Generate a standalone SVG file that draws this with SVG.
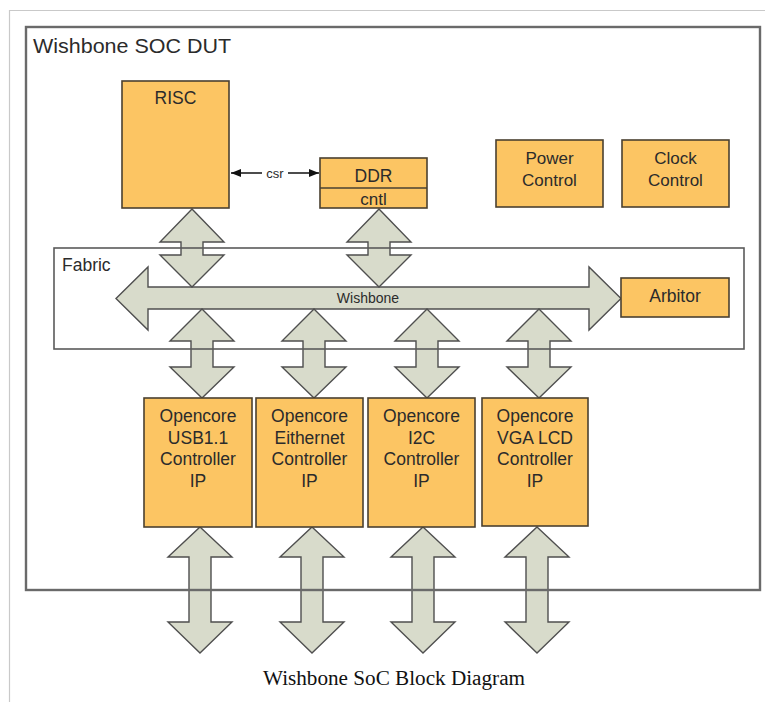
<svg xmlns="http://www.w3.org/2000/svg" width="765" height="702" viewBox="0 0 765 702">
<style>
.box{fill:#FCC563;stroke:#4a4030;stroke-width:1.6}
.arr{fill:#D8DBCB;stroke:#4f4f4f;stroke-width:1.4;stroke-linejoin:miter}
.t{font-family:"Liberation Sans",Arial,sans-serif;fill:#2b2b2b;text-anchor:middle}
.frame{fill:none;stroke:#6a6a6a;stroke-width:2.4}
</style>
<defs>
<marker id="ah" viewBox="0 0 10 10" refX="10" refY="5" markerWidth="10" markerHeight="10" markerUnits="userSpaceOnUse" orient="auto-start-reverse">
<path d="M0,1 L10,5 L0,9 Z" fill="#111"/>
</marker>
</defs>
<rect width="765" height="702" fill="#fff"/>
<path d="M9.5,702 V10.5 H765" fill="none" stroke="#c9c9c9" stroke-width="1.2"/>

<g id="connectors">
<path class="arr" d="M116,298.5 L148,267 L148,287 L589,287 L589,267 L621,298.5 L589,330 L589,309 L148,309 L148,330 Z"/>
<text class="t" x="368" y="303" font-size="14">Wishbone</text>
<path class="arr" d="M192,209 L224,242 L203,242 L203,255 L224,255 L192,287 L160,255 L181,255 L181,242 L160,242 Z"/>
<path class="arr" d="M379,209 L411,242 L390,242 L390,255 L411,255 L379,287 L347,255 L368,255 L368,242 L347,242 Z"/>
<path class="arr" d="M202,309 L234,341 L213,341 L213,367 L234,367 L202,398 L170,367 L191,367 L191,341 L170,341 Z"/>
<path class="arr" d="M314,309 L346,341 L325,341 L325,367 L346,367 L314,398 L282,367 L303,367 L303,341 L282,341 Z"/>
<path class="arr" d="M427,309 L459,341 L438,341 L438,367 L459,367 L427,398 L395,367 L416,367 L416,341 L395,341 Z"/>
<path class="arr" d="M539,309 L571,341 L550,341 L550,367 L571,367 L539,398 L507,367 L528,367 L528,341 L507,341 Z"/>
<path class="arr" d="M200,527 L232,557 L211,557 L211,622 L232,622 L200,653 L168,622 L189,622 L189,557 L168,557 Z"/>
<path class="arr" d="M312,527 L344,557 L323,557 L323,622 L344,622 L312,653 L280,622 L301,622 L301,557 L280,557 Z"/>
<path class="arr" d="M423,527 L455,557 L434,557 L434,622 L455,622 L423,653 L391,622 L412,622 L412,557 L391,557 Z"/>
<path class="arr" d="M537,527 L569,557 L548,557 L548,622 L569,622 L537,653 L505,622 L526,622 L526,557 L505,557 Z"/>
<line x1="231" y1="173" x2="319" y2="173" stroke="#111" stroke-width="1.4" marker-start="url(#ah)" marker-end="url(#ah)"/>
<rect x="262" y="165" width="26" height="15" fill="#fff"/>
<text class="t" x="275" y="177.5" font-size="13" fill="#444">csr</text>
</g>

<g id="dut">
<rect class="frame" x="26" y="27" width="734" height="563"/>
<text class="t" x="33" y="53" font-size="21" style="text-anchor:start" textLength="198" lengthAdjust="spacingAndGlyphs">Wishbone SOC DUT</text>
</g>

<g id="fabric">
<rect x="54" y="248" width="690" height="101" fill="none" stroke="#5a5a5a" stroke-width="1.6"/>
<text class="t" x="62" y="271" font-size="17.5" style="text-anchor:start">Fabric</text>
</g>

<g id="risc">
<rect class="box" x="122" y="81" width="107" height="127"/>
<text class="t" x="175.5" y="104" font-size="17.5">RISC</text>
</g>

<g id="ddr">
<rect class="box" x="320" y="158" width="107" height="50"/>
<line x1="320" y1="188" x2="427" y2="188" stroke="#4a4030" stroke-width="1.6"/>
<text class="t" x="373.5" y="182" font-size="17.5">DDR</text>
<text class="t" x="373.5" y="205" font-size="17">cntl</text>
</g>

<g id="power">
<rect class="box" x="496" y="140" width="107" height="67"/>
<text class="t" x="549.5" y="164" font-size="17">Power</text>
<text class="t" x="549.5" y="186" font-size="17">Control</text>
</g>

<g id="clock">
<rect class="box" x="622" y="140" width="107" height="67"/>
<text class="t" x="675.5" y="164" font-size="17">Clock</text>
<text class="t" x="675.5" y="186" font-size="17">Control</text>
</g>

<g id="arbitor">
<rect class="box" x="621" y="278" width="108" height="39"/>
<text class="t" x="675" y="302" font-size="17.5">Arbitor</text>
</g>

<g id="usb">
<rect class="box" x="144" y="398" width="108" height="129"/>
<text class="t" x="198" y="422" font-size="17.5">Opencore</text>
<text class="t" x="198" y="443.5" font-size="17.5">USB1.1</text>
<text class="t" x="198" y="465" font-size="17.5">Controller</text>
<text class="t" x="198" y="486.5" font-size="17.5">IP</text>
</g>

<g id="ethernet">
<rect class="box" x="256" y="398" width="107" height="129"/>
<text class="t" x="309.5" y="422" font-size="17.5">Opencore</text>
<text class="t" x="309.5" y="443.5" font-size="17.5">Eithernet</text>
<text class="t" x="309.5" y="465" font-size="17.5">Controller</text>
<text class="t" x="309.5" y="486.5" font-size="17.5">IP</text>
</g>

<g id="i2c">
<rect class="box" x="368" y="398" width="107" height="129"/>
<text class="t" x="421.5" y="422" font-size="17.5">Opencore</text>
<text class="t" x="421.5" y="443.5" font-size="17.5">I2C</text>
<text class="t" x="421.5" y="465" font-size="17.5">Controller</text>
<text class="t" x="421.5" y="486.5" font-size="17.5">IP</text>
</g>

<g id="vga">
<rect class="box" x="482" y="398" width="106" height="128"/>
<text class="t" x="535" y="422" font-size="17.5">Opencore</text>
<text class="t" x="535" y="443.5" font-size="17.5">VGA LCD</text>
<text class="t" x="535" y="465" font-size="17.5">Controller</text>
<text class="t" x="535" y="486.5" font-size="17.5">IP</text>
</g>

<text x="394" y="685" font-family="Liberation Serif,'Times New Roman',serif" font-size="20" fill="#111" text-anchor="middle" textLength="262" lengthAdjust="spacingAndGlyphs">Wishbone SoC Block Diagram</text>
</svg>
